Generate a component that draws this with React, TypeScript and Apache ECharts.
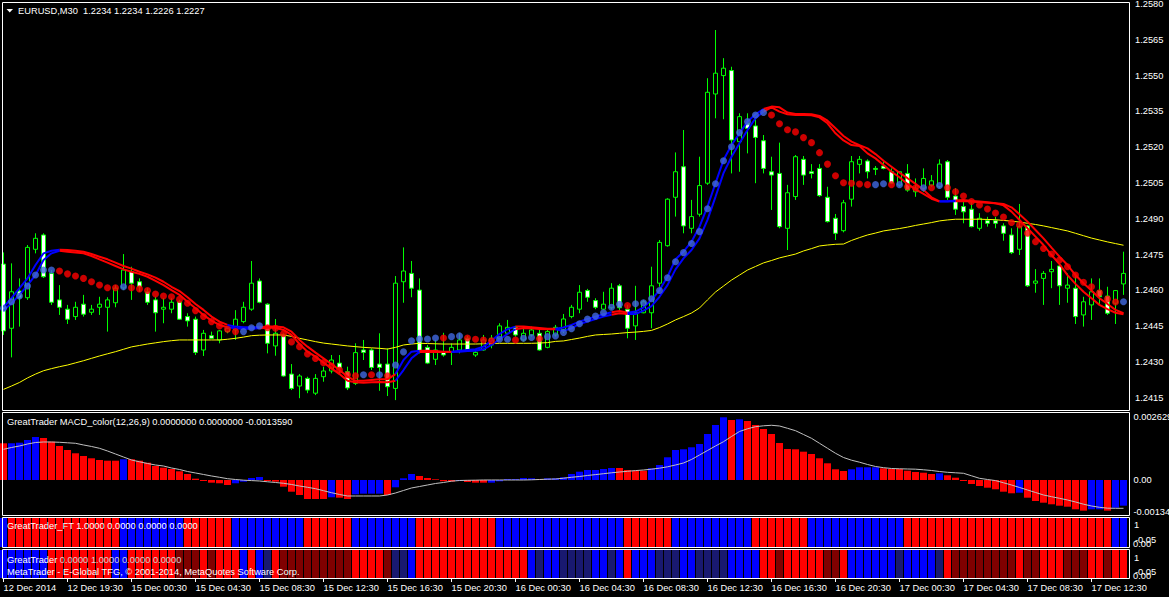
import React, { useEffect, useRef } from "react";
import * as echarts from "echarts";

const FONT = '"Liberation Sans", Arial, sans-serif';
const FS = 9.3;

const timeLabels = [
  "12 Dec 2014", "12 Dec 19:30", "15 Dec 00:30", "15 Dec 04:30", "15 Dec 08:30", "15 Dec 12:30",
  "15 Dec 16:30", "15 Dec 20:30", "16 Dec 00:30", "16 Dec 04:30", "16 Dec 08:30", "16 Dec 12:30",
  "16 Dec 16:30", "16 Dec 20:30", "17 Dec 00:30", "17 Dec 04:30", "17 Dec 08:30", "17 Dec 12:30",
];
const priceTicks = [1.2415, 1.243, 1.2445, 1.246, 1.2475, 1.249, 1.2505, 1.252, 1.2535, 1.255, 1.2565, 1.258];
const macdAxisValues = [0.002629, 0, -0.00134];
const macdAxisLabels = ["0.002629", "0.00", "-0.00134"];

const opens = [
  1.2471, 1.24441, 1.24597, 1.24569, 1.24772, 1.24832, 1.24671, 1.2456, 1.24521, 1.2449,
  1.24542, 1.24508, 1.24529, 1.24529, 1.24548, 1.2461, 1.24678, 1.24636, 1.24594, 1.2456,
  1.24521, 1.24521, 1.24552, 1.2449, 1.24479, 1.2435, 1.2441, 1.24392, 1.24427, 1.24434,
  1.24469, 1.24521, 1.24639, 1.24542, 1.24367, 1.24413, 1.24249, 1.24199, 1.24231, 1.24169,
  1.24238, 1.24262, 1.24295, 1.24259, 1.2421, 1.2435, 1.2435, 1.24291, 1.24291, 1.24189,
  1.24636, 1.24671, 1.24601, 1.24361, 1.24311, 1.24343, 1.2434, 1.2435, 1.24399, 1.24329,
  1.2435, 1.24371, 1.24399, 1.2442, 1.24445, 1.24392, 1.24413, 1.2442, 1.24361, 1.24413,
  1.24434, 1.2449, 1.24521, 1.24599, 1.24557, 1.24521, 1.24527, 1.24619, 1.24521, 1.24451,
  1.24506, 1.24506, 1.2463, 1.24787, 1.2499, 1.25118, 1.2486, 1.24919, 1.25049, 1.25423,
  1.255, 1.25521, 1.25223, 1.253, 1.25289, 1.25227, 1.25097, 1.2509, 1.2486, 1.24993,
  1.25149, 1.25097, 1.25111, 1.2499, 1.24902, 1.2485, 1.24982, 1.25128, 1.25142, 1.25111,
  1.25121, 1.25097, 1.25041, 1.2509, 1.25013, 1.25028, 1.25041, 1.25034, 1.25139, 1.24995,
  1.24951, 1.2494, 1.2486, 1.24892, 1.24892, 1.2487, 1.24832, 1.24772, 1.2487, 1.2463,
  1.2465, 1.24678, 1.24702, 1.24609, 1.24609, 1.24497, 1.24539, 1.24599, 1.24576, 1.24546,
  1.24627,
];
const highs = [
  1.24759, 1.24713, 1.2465, 1.2479, 1.24839, 1.24839, 1.24685, 1.24622, 1.24539, 1.24552,
  1.24581, 1.24539, 1.24573, 1.24571, 1.24622, 1.24752, 1.24699, 1.2465, 1.24609, 1.24573,
  1.24567, 1.24567, 1.2456, 1.24504, 1.2449, 1.24434, 1.24427, 1.24434, 1.24448, 1.24517,
  1.24552, 1.24723, 1.2465, 1.24546, 1.2448, 1.2442, 1.24291, 1.24249, 1.24238, 1.24249,
  1.2428, 1.24329, 1.24329, 1.2428, 1.24378, 1.24392, 1.24357, 1.2442, 1.24357, 1.2466,
  1.2478, 1.24723, 1.2465, 1.24371, 1.24392, 1.24422, 1.24378, 1.2442, 1.24409, 1.2435,
  1.24413, 1.24413, 1.24462, 1.24476, 1.24451, 1.24441, 1.24448, 1.24434, 1.24441, 1.24455,
  1.24501, 1.24539, 1.24622, 1.24606, 1.24567, 1.24594, 1.2463, 1.24627, 1.24539, 1.24619,
  1.2456, 1.24699, 1.24811, 1.24986, 1.25178, 1.25272, 1.24979, 1.2516, 1.25489, 1.25691,
  1.25573, 1.25537, 1.25342, 1.25342, 1.25321, 1.25251, 1.2516, 1.25219, 1.25042, 1.25167,
  1.25163, 1.25129, 1.25129, 1.25034, 1.2492, 1.24979, 1.25163, 1.25163, 1.25149, 1.25121,
  1.25139, 1.25111, 1.25097, 1.25129, 1.25069, 1.25111, 1.25083, 1.25149, 1.25146, 1.25028,
  1.24972, 1.24972, 1.24923, 1.24908, 1.24908, 1.24881, 1.2486, 1.24962, 1.24874, 1.24689,
  1.24681, 1.24723, 1.24706, 1.24671, 1.24671, 1.24573, 1.2465, 1.2465, 1.24615, 1.24601,
  1.24762,
];
const lows = [
  1.24413, 1.24319, 1.24448, 1.2456, 1.24755, 1.24652, 1.24539, 1.24497, 1.24459, 1.24476,
  1.2449, 1.24497, 1.24497, 1.24427, 1.24529, 1.24601, 1.2456, 1.24594, 1.24539, 1.24427,
  1.24462, 1.24504, 1.24476, 1.24448, 1.24329, 1.24325, 1.24396, 1.24378, 1.2442, 1.24392,
  1.24462, 1.24514, 1.24546, 1.24336, 1.24326, 1.24238, 1.24182, 1.24148, 1.24169, 1.24161,
  1.24217, 1.24252, 1.24252, 1.24182, 1.24203, 1.24308, 1.24266, 1.24179, 1.24157, 1.2414,
  1.24548, 1.24571, 1.24336, 1.24291, 1.24287, 1.24322, 1.24287, 1.24336, 1.24343, 1.24321,
  1.24347, 1.24357, 1.24392, 1.24413, 1.24406, 1.24385, 1.24406, 1.24347, 1.24357, 1.24406,
  1.24421, 1.24483, 1.24504, 1.24552, 1.24521, 1.24518, 1.2452, 1.24511, 1.24399, 1.24392,
  1.24504, 1.24441, 1.24615, 1.24783, 1.24909, 1.24839, 1.24839, 1.24909, 1.25042, 1.25321,
  1.25317, 1.2509, 1.25097, 1.25174, 1.25049, 1.2509, 1.24937, 1.2486, 1.24769, 1.24979,
  1.25042, 1.25069, 1.24992, 1.24884, 1.24811, 1.24843, 1.24951, 1.2509, 1.25069, 1.25083,
  1.25107, 1.25046, 1.25034, 1.25013, 1.24992, 1.25013, 1.25034, 1.25028, 1.24979, 1.24916,
  1.24881, 1.24864, 1.2485, 1.24867, 1.2486, 1.24808, 1.24752, 1.24748, 1.24614, 1.2459,
  1.24539, 1.24609, 1.24539, 1.24548, 1.24459, 1.24448, 1.24476, 1.24539, 1.24497, 1.24459,
  1.24581,
];
const closes = [
  1.2443, 1.24594, 1.24568, 1.2478, 1.24818, 1.24657, 1.2455, 1.24529, 1.24479, 1.24529,
  1.245, 1.24521, 1.24542, 1.2456, 1.24609, 1.24685, 1.2463, 1.24615, 1.2455, 1.24506,
  1.24529, 1.2455, 1.24479, 1.24472, 1.2434, 1.2442, 1.24399, 1.2443, 1.24441, 1.24479,
  1.24529, 1.2463, 1.2455, 1.24378, 1.2442, 1.24241, 1.24189, 1.24241, 1.24182, 1.24231,
  1.24262, 1.24308, 1.24274, 1.24191, 1.24339, 1.2434, 1.24277, 1.24277, 1.24196, 1.2463,
  1.24681, 1.24609, 1.24347, 1.24295, 1.2435, 1.24329, 1.24361, 1.24392, 1.2435, 1.2434,
  1.24392, 1.24399, 1.24451, 1.24445, 1.24413, 1.2442, 1.24434, 1.2435, 1.24427, 1.24445,
  1.2448, 1.24529, 1.24592, 1.24571, 1.24529, 1.24542, 1.24609, 1.24527, 1.24441, 1.24506,
  1.24552, 1.24619, 1.24801, 1.24982, 1.25097, 1.2487, 1.24909, 1.25039, 1.2543, 1.2551,
  1.25531, 1.2523, 1.25328, 1.25279, 1.25241, 1.25111, 1.25083, 1.24867, 1.25009, 1.2516,
  1.25083, 1.2509, 1.24997, 1.24888, 1.24839, 1.24967, 1.25139, 1.25149, 1.25097, 1.25107,
  1.25111, 1.25049, 1.25097, 1.2502, 1.25028, 1.25069, 1.25059, 1.25129, 1.2499, 1.2494,
  1.24929, 1.24867, 1.24902, 1.24881, 1.24881, 1.24839, 1.24758, 1.24867, 1.24619, 1.24639,
  1.24671, 1.24688, 1.24619, 1.24622, 1.2449, 1.24552, 1.24594, 1.24573, 1.24504, 1.24599,
  1.24671,
];
const maYellow = [
  1.24185, 1.24199, 1.24214, 1.24233, 1.24249, 1.24263, 1.24272, 1.2428, 1.24287, 1.24296,
  1.24305, 1.24315, 1.24325, 1.24334, 1.24343, 1.24353, 1.24363, 1.24369, 1.24375, 1.2438,
  1.24385, 1.24389, 1.24392, 1.24392, 1.24392, 1.24392, 1.24392, 1.24392, 1.24395, 1.24399,
  1.24404, 1.2441, 1.24412, 1.24413, 1.24413, 1.24413, 1.24407, 1.24399, 1.24392, 1.24385,
  1.24379, 1.24375, 1.24371, 1.24367, 1.24364, 1.24361, 1.24359, 1.24357, 1.24354, 1.24361,
  1.24371, 1.24375, 1.24378, 1.24377, 1.24376, 1.24375, 1.24375, 1.24375, 1.24375, 1.24375,
  1.24376, 1.24377, 1.24378, 1.24378, 1.24378, 1.24378, 1.24378, 1.24379, 1.24381, 1.24386,
  1.24388, 1.24394, 1.244, 1.24407, 1.24413, 1.24415, 1.24417, 1.2442, 1.24423, 1.24425,
  1.24428, 1.24432, 1.24444, 1.24459, 1.24476, 1.2449, 1.24505, 1.24526, 1.2456, 1.24593,
  1.24618, 1.24643, 1.24664, 1.24685, 1.247, 1.24715, 1.24725, 1.24736, 1.24744, 1.24752,
  1.24765, 1.24775, 1.24786, 1.2479, 1.24793, 1.24794, 1.24809, 1.24821, 1.24832, 1.2484,
  1.24849, 1.24854, 1.24859, 1.24865, 1.24872, 1.24878, 1.24884, 1.24891, 1.24895, 1.24898,
  1.24898, 1.24898, 1.24898, 1.24897, 1.24896, 1.24893, 1.2489, 1.24886, 1.24881, 1.24876,
  1.2487, 1.24863, 1.24856, 1.24849, 1.24839, 1.24829, 1.24819, 1.24811, 1.24803, 1.24796,
  1.24789,
];
const trendA = [
  1.24529, 1.24567, 1.24609, 1.2465, 1.24706, 1.24755, 1.24766, 1.2477, 1.24769, 1.24766,
  1.24762, 1.24752, 1.24741, 1.2473, 1.24716, 1.24702, 1.24691, 1.24678, 1.24667, 1.24653,
  1.24636, 1.24615, 1.24597, 1.24571, 1.24543, 1.24518, 1.2449, 1.24469, 1.24455, 1.24448,
  1.24445, 1.24445, 1.24445, 1.24448, 1.24448, 1.24445, 1.24427, 1.24392, 1.24364, 1.24339,
  1.24315, 1.24291, 1.24266, 1.24238, 1.24221, 1.24221, 1.24224, 1.24227, 1.24227, 1.24249,
  1.24308, 1.24343, 1.24347, 1.24347, 1.24346, 1.24343, 1.24343, 1.24347, 1.2435, 1.24353,
  1.24364, 1.24389, 1.24417, 1.24437, 1.24448, 1.24448, 1.24445, 1.24442, 1.24439, 1.24439,
  1.24444, 1.24455, 1.24469, 1.2448, 1.2449, 1.245, 1.24508, 1.24513, 1.24506, 1.24511,
  1.24529, 1.2456, 1.24601, 1.24657, 1.2473, 1.24762, 1.24804, 1.24867, 1.24951, 1.25049,
  1.25146, 1.25209, 1.25258, 1.25307, 1.25338, 1.2536, 1.2537, 1.25367, 1.25345, 1.25339,
  1.25339, 1.25338, 1.25331, 1.25311, 1.25279, 1.25247, 1.25223, 1.25208, 1.25195, 1.25171,
  1.25143, 1.25118, 1.25093, 1.2507, 1.25046, 1.25021, 1.2499, 1.24973, 1.24973, 1.24976,
  1.24979, 1.24974, 1.24972, 1.24969, 1.24965, 1.24962, 1.24948, 1.24919, 1.24888, 1.24853,
  1.24818, 1.24779, 1.24741, 1.24706, 1.24664, 1.2463, 1.24599, 1.24567, 1.24543, 1.24518,
  1.24504,
];
const trendB = [
  1.24515, 1.24546, 1.24581, 1.24622, 1.24664, 1.24727, 1.24755, 1.24766, 1.24762, 1.24759,
  1.24755, 1.24744, 1.2473, 1.24716, 1.24702, 1.24688, 1.24678, 1.24669, 1.24657, 1.2464,
  1.24622, 1.24601, 1.24581, 1.24552, 1.24525, 1.24497, 1.24473, 1.24455, 1.24445, 1.24441,
  1.24439, 1.24439, 1.24441, 1.24443, 1.24443, 1.24434, 1.24413, 1.24375, 1.24343, 1.24322,
  1.24297, 1.24273, 1.24249, 1.24221, 1.24215, 1.24213, 1.24215, 1.24216, 1.24215, 1.24221,
  1.24266, 1.24315, 1.24342, 1.24343, 1.24342, 1.24342, 1.24342, 1.24343, 1.24346, 1.24347,
  1.24353, 1.24371, 1.24395, 1.24417, 1.24437, 1.24442, 1.24441, 1.24438, 1.24437, 1.24437,
  1.2443, 1.24441, 1.24459, 1.24469, 1.2448, 1.2449, 1.24498, 1.24504, 1.24501, 1.24501,
  1.24515, 1.24534, 1.24573, 1.24622, 1.24688, 1.24734, 1.24769, 1.24818, 1.24895, 1.24992,
  1.25091, 1.2516, 1.25216, 1.25272, 1.25321, 1.25349, 1.25367, 1.25349, 1.25338, 1.25335,
  1.25335, 1.25334, 1.25325, 1.253, 1.25258, 1.25228, 1.25209, 1.25205, 1.25174, 1.25153,
  1.25125, 1.25097, 1.25074, 1.25046, 1.25023, 1.25004, 1.24984, 1.24972, 1.24972, 1.24973,
  1.24974, 1.24972, 1.24969, 1.24967, 1.24965, 1.24956, 1.2493, 1.24895, 1.2486, 1.24825,
  1.2479, 1.24748, 1.2471, 1.24664, 1.24627, 1.24594, 1.24567, 1.24539, 1.24521, 1.24506,
  1.245,
];
const trendColors = [
  "bbbbbbbbrr", "rrrrrrrrrr", "rrrrrrrrrb", "bbbrrrrrrr", "rrrrrrrrrr",
  "bbbrrrrbbb", "bbbbbrrrrr", "bbbbbbbrrb", "bbbbbbbbbb", "bbbbbbrrrr",
  "rrrrrrrrrr", "rrrrrrrrbb", "rrrrrrrrrr", "rrrrrrrrrr", "r",
].join("");
const dots = [
  1.24525, 1.24552, 1.24576, 1.24618, 1.24664, 1.24685, 1.24685, 1.24681, 1.24669, 1.2466,
  1.2465, 1.24636, 1.24622, 1.24611, 1.24611, 1.24615, 1.24611, 1.24606, 1.24599, 1.24585,
  1.24576, 1.24573, 1.24562, 1.24546, 1.24515, 1.2449, 1.24469, 1.24451, 1.24437, 1.24427,
  1.24427, 1.24443, 1.24451, 1.24443, 1.24441, 1.24418, 1.24384, 1.24364, 1.24333, 1.24314,
  1.24297, 1.24283, 1.24266, 1.24246, 1.24242, 1.24246, 1.24246, 1.24246, 1.24242, 1.24287,
  1.24342, 1.24389, 1.24396, 1.24396, 1.244, 1.244, 1.24406, 1.24409, 1.244, 1.24395,
  1.24392, 1.24389, 1.24395, 1.24395, 1.24392, 1.24399, 1.24402, 1.24397, 1.24406, 1.24409,
  1.24423, 1.24439, 1.2446, 1.2448, 1.24492, 1.24506, 1.24529, 1.24542, 1.24536, 1.24544,
  1.24548, 1.24565, 1.24599, 1.24653, 1.2472, 1.24758, 1.24796, 1.24846, 1.24942, 1.25047,
  1.25143, 1.25202, 1.25261, 1.25307, 1.25335, 1.25345, 1.25335, 1.25298, 1.25273, 1.25264,
  1.2524, 1.25219, 1.25177, 1.25129, 1.2508, 1.25051, 1.25049, 1.25046, 1.25043, 1.25043,
  1.25047, 1.25043, 1.25043, 1.25034, 1.25029, 1.2503, 1.2503, 1.25039, 1.2503, 1.25013,
  1.24995, 1.24972, 1.24958, 1.24941, 1.24924, 1.24907, 1.24884, 1.24874, 1.24839, 1.24804,
  1.24775, 1.24752, 1.24727, 1.24699, 1.24664, 1.24634, 1.24615, 1.2459, 1.24564, 1.24551,
  1.24552,
];
const dotColors = [
  "bbbbbbbrrr", "rrrrrbrrrr", "rrrrrrrrrr", "bbbrrrrrrr", "rrrrrbrbrb",
  "bbbbbrbbrr", "rrbbrbbrbb", "bbbbbbbbrb", "bbbbbbbbbb", "bbbbbbrrrr",
  "rrrrrrrrrb", "brbrrbrbrr", "rrrrrrrrrr", "rrrrrrrrrr", "b",
].join("");
const macdHist = [
  0.001539, 0.001539, 0.001564, 0.001677, 0.001803, 0.001761, 0.001606, 0.001426, 0.001258, 0.00112,
  0.001006, 0.00091, 0.000839, 0.000809, 0.000809, 0.000868, 0.000868, 0.000809, 0.000725, 0.000587,
  0.000516, 0.000461, 0.000365, 0.000252, 0.000055, -0.000042, -0.000113, -0.000138, -0.00021, -0.000138,
  -0.000071, 0.000084, 0.000126, -0.000042, -0.000071, -0.000281, -0.000491, -0.000629, -0.000797, -0.000797,
  -0.000797, -0.000725, -0.000742, -0.000797, -0.0006, -0.000574, -0.000574, -0.000574, -0.000629, -0.000306,
  0.000071, 0.000252, 0.000168, 0.000084, 0.000029, -0.00005, -0.000063, -0.000042, -0.000084, -0.000113,
  -0.000113, -0.000113, -0.000055, 0.000042, 0.000042, 0.000084, 0.000071, 0.000029, 0.000071, 0.000071,
  0.000113, 0.000252, 0.000348, 0.000419, 0.000419, 0.000461, 0.000503, 0.000503, 0.000419, 0.00039,
  0.00039, 0.000491, 0.000629, 0.000952, 0.001258, 0.001287, 0.001371, 0.001509, 0.001929, 0.002306,
  0.002629, 0.002516, 0.002545, 0.002474, 0.002306, 0.002138, 0.001929, 0.001551, 0.0013, 0.001287,
  0.001187, 0.00109, 0.00091, 0.0007, 0.000449, 0.000377, 0.000449, 0.000533, 0.000533, 0.000533,
  0.000491, 0.000461, 0.000461, 0.00039, 0.000335, 0.000306, 0.000252, 0.000281, 0.000197, 0.000096,
  -0.000042, -0.000168, -0.000252, -0.000323, -0.00039, -0.000491, -0.000558, -0.000533, -0.000742, -0.000881,
  -0.000952, -0.001019, -0.001078, -0.00112, -0.001229, -0.001287, -0.001229, -0.001229, -0.001287, -0.001161,
  -0.001078,
];
const macdColors = [
  "rbbbbrrrrr", "rrrrrbrrrr", "rrrrrrrrrb", "bbbrrrrrrr", "rbrrbbbbrb",
  "bbrrrrrbrr", "rbbbbbbrbb", "bbbbbbbrrr", "rbbbbbbbbb", "brbrrrrrrr",
  "rrrrrrbbbb", "rrrrrrrbrr", "rrrrrrrbrr", "rrrrrrbbrb", "b",
].join("");
const macdSignal = [
  0.001287, 0.001363, 0.001426, 0.001509, 0.001572, 0.001593, 0.001593, 0.001581, 0.00156, 0.001539,
  0.001468, 0.001405, 0.001329, 0.001216, 0.00109, 0.000964, 0.000839, 0.000763, 0.000692, 0.000629,
  0.000587, 0.000503, 0.00044, 0.000356, 0.000294, 0.000231, 0.000168, 0.000113, 0.000055, 0.000021,
  -0.000008, -0.000025, -0.000042, -0.000075, -0.000105, -0.000138, -0.000189, -0.000252, -0.000306, -0.000365,
  -0.000449, -0.000533, -0.000608, -0.000671, -0.000671, -0.000671, -0.000671, -0.000671, -0.000629, -0.000545,
  -0.00044, -0.000335, -0.000273, -0.00021, -0.000147, -0.000105, -0.00005, -0.000021, -0.000013, -0.000008,
  0, 0, 0, 0, 0, 0, 0.000008, 0.000021, 0.000034, 0.000042,
  0.000075, 0.000113, 0.000147, 0.000189, 0.000226, 0.000264, 0.000302, 0.000335, 0.000365, 0.000394,
  0.000419, 0.000453, 0.000495, 0.000553, 0.000629, 0.000713, 0.00086, 0.001048, 0.001237, 0.001426,
  0.001606, 0.001824, 0.002034, 0.002147, 0.002235, 0.002273, 0.002294, 0.002264, 0.002168, 0.002067,
  0.001908, 0.001748, 0.001539, 0.001329, 0.00112, 0.000943, 0.00083, 0.000746, 0.00065, 0.000566,
  0.000516, 0.000482, 0.00047, 0.000461, 0.000453, 0.000428, 0.000398, 0.000356, 0.000323, 0.000302,
  0.000281, 0.000176, 0.000071, 0.000021, -0.000025, -0.000117, -0.00021, -0.000314, -0.000419, -0.000524,
  -0.000629, -0.0007, -0.000767, -0.000839, -0.000922, -0.001015, -0.00109, -0.001145, -0.001182, -0.001187,
  -0.001187,
];
const ftColors = [
  "brrrrrrrrr", "rrrrrbbbbb", "bbbrrrrrrb", "bbbbbbbbrr", "rrrrbbbbbb",
  "bbrrrrrrrr", "rrbbbbbbbb", "bbbbbbbbrr", "rrrrbbbbbb", "bbbbrrrrrr",
  "rbbbbbbbbb", "bbbrrrrrrr", "rrrrrrrrrr", "rrrrrrrrrb", "b",
].join("");
const gtColors = [
  "bbbbbbrrrr", "rrrrbbrrrr", "rrmmmrmrrr", "brbnrmmmmm", "mmmmrrrrmn",
  "nbrrrrrrrr", "rrrrrrbnbb", "nnnnbbnbrb", "bbnnnbbnnn", "nbbbbrrmrr",
  "rrrmmrbbbb", "bbnbbbbnrm", "mmmmmmmrmm", "rrrmmmrrmr", "r",
].join("");

const palette: Record<string, string> = { r: "#ff0000", b: "#0000ff", m: "#800000", n: "#191970" };
const DOT_BLUE = "#4169e1";

const N = opens.length;
const cats = opens.map((_, i) => String(i));

function splitBy(vals: number[], colors: string, key: string) {
  return vals.map((v, i) => (colors[i] === key || colors[i + 1] === key ? v : null));
}

function txt(x: number, y: number, text: string, fill = "#ffffff", extra: any = {}) {
  return {
    type: "text",
    x,
    y,
    z: 100,
    silent: true,
    style: {
      text,
      fill,
      fontSize: FS,
      fontFamily: FONT,
      align: "left",
      verticalAlign: "middle",
      textAlign: "left",
      textVerticalAlign: "middle",
      ...extra,
    },
  };
}

function frame(y: number, h: number) {
  return {
    type: "rect",
    z: 90,
    silent: true,
    shape: { x: 2.5, y, width: 1127, height: h },
    style: { fill: "none", stroke: "#ffffff", lineWidth: 1 },
  };
}

function buildOption() {
  const grids = [
    { left: -0.5, width: 1128, top: 3, height: 407 },
    { left: -0.5, width: 1128, top: 413, height: 102 },
    { left: -0.5, width: 1128, top: 518, height: 29 },
    { left: -0.5, width: 1128, top: 550, height: 28 },
  ].map((g) => ({ ...g, outerBoundsMode: "none", containLabel: false, show: false }));

  const xAxes = grids.map((_, i) => ({
    type: "category",
    gridIndex: i,
    data: cats,
    boundaryGap: true,
    show: i === 3,
    axisLine: { show: false },
    splitLine: { show: false },
    axisTick: {
      show: i === 3,
      interval: 7,
      alignWithLabel: true,
      length: 4,
      lineStyle: { color: "#ffffff", width: 1 },
    },
    axisLabel: {
      show: i === 3,
      interval: 7,
      align: "left",
      margin: 5,
      color: "#ffffff",
      fontSize: FS,
      fontFamily: FONT,
      formatter: (_v: string, idx: number) => timeLabels[idx / 8] ?? "",
    },
  }));

  const yAxes = [
    {
      type: "value",
      gridIndex: 0,
      position: "right",
      min: 1.240985,
      max: 1.258042,
      axisLine: { show: false },
      axisTick: { show: false },
      splitLine: { show: false },
      axisLabel: {
        customValues: priceTicks,
        formatter: (v: number) => v.toFixed(4),
        color: "#ffffff",
        fontSize: FS,
        fontFamily: FONT,
        margin: 7.5,
      },
    },
    {
      type: "value",
      gridIndex: 1,
      position: "right",
      min: -0.001468,
      max: 0.002809,
      axisLine: { show: false },
      axisTick: { show: false },
      splitLine: { show: false },
      axisLabel: {
        customValues: macdAxisValues,
        formatter: (v: number) => {
          const k = macdAxisValues.findIndex((m) => Math.abs(m - v) < 1e-9);
          return k >= 0 ? macdAxisLabels[k] : "";
        },
        color: "#ffffff",
        fontSize: FS,
        fontFamily: FONT,
        margin: 6,
      },
    },
    { type: "value", gridIndex: 2, min: 0, max: 1, show: false, splitLine: { show: false } },
    { type: "value", gridIndex: 3, min: 0, max: 1, show: false, splitLine: { show: false } },
  ];

  const trendSeries: any[] = [];
  [trendA, trendB].forEach((vals) => {
    ["r", "b"].forEach((key) => {
      trendSeries.push({
        type: "line",
        xAxisIndex: 0,
        yAxisIndex: 0,
        data: splitBy(vals, trendColors, key),
        showSymbol: false,
        symbol: "none",
        connectNulls: false,
        lineStyle: { color: palette[key], width: 2 },
        z: 3,
        silent: true,
      });
    });
  });

  const series: any[] = [
    {
      type: "candlestick",
      xAxisIndex: 0,
      yAxisIndex: 0,
      data: opens.map((o, i) => [o, closes[i], lows[i], highs[i]]),
      barWidth: 5,
      itemStyle: {
        color: "#000000",
        color0: "#ffffff",
        borderColor: "#00ff00",
        borderColor0: "#00ff00",
        borderColorDoji: "#00ff00",
        borderWidth: 1,
      },
      z: 1,
      silent: true,
    },
    {
      type: "line",
      xAxisIndex: 0,
      yAxisIndex: 0,
      data: maYellow,
      showSymbol: false,
      symbol: "none",
      lineStyle: { color: "#ffff00", width: 1 },
      z: 2,
      silent: true,
    },
    ...trendSeries,
    {
      type: "scatter",
      xAxisIndex: 0,
      yAxisIndex: 0,
      symbol: "circle",
      symbolSize: 7,
      data: dots.map((v, i) => ({
        value: [i, v],
        itemStyle: { color: dotColors[i] === "b" ? DOT_BLUE : "#ff0000" },
      })),
      z: 4,
      silent: true,
    },
    {
      type: "bar",
      xAxisIndex: 1,
      yAxisIndex: 1,
      barWidth: 7,
      data: macdHist.map((v, i) => ({ value: v, itemStyle: { color: palette[macdColors[i]] } })),
      z: 2,
      silent: true,
    },
    {
      type: "line",
      xAxisIndex: 1,
      yAxisIndex: 1,
      data: macdSignal,
      showSymbol: false,
      symbol: "none",
      lineStyle: { color: "#c0c0c0", width: 1 },
      z: 3,
      silent: true,
    },
    {
      type: "bar",
      xAxisIndex: 2,
      yAxisIndex: 2,
      barWidth: 7,
      data: cats.map((_, i) => ({ value: 1, itemStyle: { color: palette[ftColors[i]] } })),
      z: 2,
      silent: true,
    },
    {
      type: "bar",
      xAxisIndex: 3,
      yAxisIndex: 3,
      barWidth: 7,
      data: cats.map((_, i) => ({ value: 1, itemStyle: { color: palette[gtColors[i]] } })),
      z: 2,
      silent: true,
    },
  ];

  const graphicEls: any[] = [
    frame(2.5, 408),
    frame(412.5, 103),
    frame(517.5, 30),
    frame(549.5, 29),
    {
      type: "polygon",
      z: 100,
      silent: true,
      shape: { points: [[6.5, 9], [13, 9], [9.75, 12.5]] },
      style: { fill: "#ffffff" },
    },
    txt(18, 10.7, "EURUSD,M30  1.2234 1.2234 1.2226 1.2227"),
    txt(7, 421.5, "GreatTrader MACD_color(12,26,9) 0.0000000 0.0000000 -0.0013590"),
    txt(7, 526.3, "GreatTrader_FT 1.0000 0.0000 0.0000 0.0000"),
    txt(7, 559.5, "{w|GreatTrader} {g|0.0000 1.0000 0.0000 0.0000}", "#ffffff", {
      rich: {
        w: { fill: "#ffffff", fontSize: FS, fontFamily: FONT },
        g: { fill: "#cfcfcf", fontSize: FS, fontFamily: FONT },
      },
    }),
    txt(7, 571.5, "MetaTrader - E-Global TFG, \u00a9 2001-2014, MetaQuotes Software Corp."),
    txt(1134, 525, "1"),
    txt(1135, 539.5, "-0.05"),
    txt(1133, 543.5, "0.00"),
    txt(1134, 557.5, "1"),
    txt(1135, 572, "-0.05"),
    txt(1133, 575.5, "0.00"),
  ];

  return {
    animation: false,
    backgroundColor: "#000000",
    textStyle: { fontFamily: FONT },
    grid: grids,
    xAxis: xAxes,
    yAxis: yAxes,
    series,
    graphic: { elements: graphicEls },
  };
}

export default function App() {
  const ref = useRef<HTMLDivElement>(null);
  useEffect(() => {
    if (!ref.current) return;
    const chart = echarts.init(ref.current, null, { renderer: "svg", width: 1169, height: 597 });
    chart.setOption(buildOption() as any);
    return () => chart.dispose();
  }, []);
  return (
    <div
      ref={ref}
      style={{
        position: "fixed",
        left: 0,
        top: 0,
        width: 1169,
        height: 597,
        background: "#000",
        overflow: "hidden",
      }}
    />
  );
}
